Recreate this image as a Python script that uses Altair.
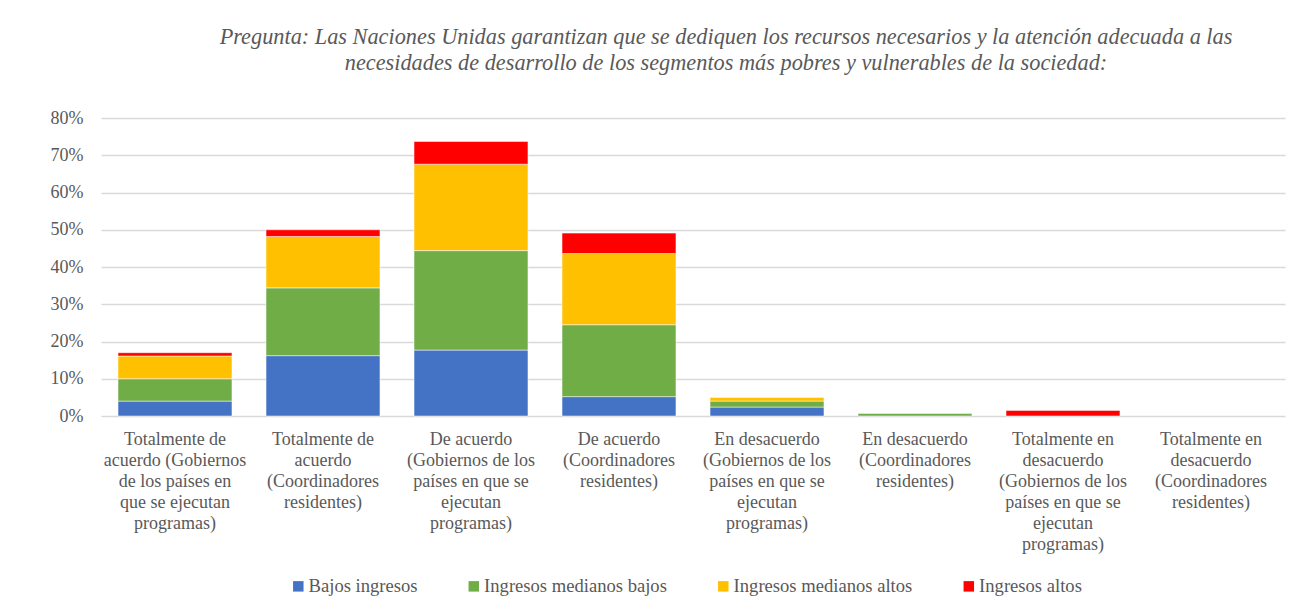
import altair as alt
import pandas as pd

categories = [
    "Totalmente de|acuerdo (Gobiernos|de los países en|que se ejecutan|programas)",
    "Totalmente de|acuerdo|(Coordinadores|residentes)",
    "De acuerdo|(Gobiernos de los|países en que se|ejecutan|programas)",
    "De acuerdo|(Coordinadores|residentes)",
    "En desacuerdo|(Gobiernos de los|países en que se|ejecutan|programas)",
    "En desacuerdo|(Coordinadores|residentes)",
    "Totalmente en|desacuerdo|(Gobiernos de los|países en que se|ejecutan|programas)",
    "Totalmente en|desacuerdo|(Coordinadores|residentes)",
]
series = ["Bajos ingresos", "Ingresos medianos bajos", "Ingresos medianos altos", "Ingresos altos"]
colors = ["#4472C4", "#70AD47", "#FFC000", "#FF0000"]

bajos = [4.0, 16.2, 17.7, 5.2, 2.4, 0.0, 0.0, 0.0]
medianos_bajos = [6.0, 18.2, 26.7, 19.3, 1.6, 0.7, 0.0, 0.0]
medianos_altos = [6.1, 13.8, 23.2, 19.1, 1.0, 0.0, 0.0, 0.0]
altos = [0.9, 1.8, 6.1, 5.5, 0.0, 0.0, 1.5, 0.0]

y_ticks = [0, 10, 20, 30, 40, 50, 60, 70, 80]

rows = []
for si, (name, vals) in enumerate(zip(series, [bajos, medianos_bajos, medianos_altos, altos])):
    for cat, v in zip(categories, vals):
        rows.append({"cat": cat, "serie": name, "value": v, "idx": si})
df = pd.DataFrame(rows)

GRAY = "#595959"
FONT = "Liberation Serif, Times New Roman, Times, serif"

chart = (
    alt.Chart(df)
    .transform_filter("datum.value > 0")
    .mark_bar(stroke="white", strokeWidth=1, strokeOpacity=0.5)
    .encode(
        x=alt.X(
            "cat:N",
            title=None,
            scale=alt.Scale(domain=categories, paddingInner=0.23, paddingOuter=0.115),
            axis=alt.Axis(
                labelExpr="split(datum.label, '|')",
                labelAngle=0,
                labelFont=FONT,
                labelFontSize=18,
                labelColor=GRAY,
                labelLineHeight=21,
                labelPadding=14,
                labelLimit=300,
                ticks=False,
                tickSize=0,
                domain=False,
                grid=False,
            ),
        ),
        y=alt.Y(
            "value:Q",
            stack="zero",
            title=None,
            scale=alt.Scale(domain=[0, 80], nice=False),
            axis=alt.Axis(
                values=y_ticks,
                labelExpr="datum.value + '%'",
                labelFont=FONT,
                labelFontSize=18,
                labelColor=GRAY,
                labelPadding=18,
                ticks=False,
                tickSize=0,
                domain=False,
                grid=True,
                gridColor="#d9d9d9",
                gridWidth=1.3,
            ),
        ),
        color=alt.Color(
            "serie:N",
            scale=alt.Scale(domain=series, range=colors),
            legend=alt.Legend(
                title=None,
                orient="none",
                direction="horizontal",
                legendX=188,
                legendY=459,
                symbolType="square",
                symbolSize=110,
                symbolStrokeWidth=0,
                labelFont=FONT,
                labelFontSize=18.6,
                labelColor=GRAY,
                labelOffset=1,
                labelLimit=400,
                columnPadding=46.5,
            ),
        ),
        order=alt.Order("idx:Q", sort="ascending"),
    )
    .properties(
        width=1184,
        height=298,
        padding={"left": 42, "top": 18, "right": 5, "bottom": 5},
        title=alt.TitleParams(
            text=[
                "Pregunta: Las Naciones Unidas garantizan que se dediquen los recursos necesarios y la atención adecuada a las",
                "necesidades de desarrollo de los segmentos más pobres y vulnerables de la sociedad:",
            ],
            font=FONT,
            fontSize=22.3,
            fontStyle="italic",
            fontWeight="normal",
            color=GRAY,
            lineHeight=25.5,
            anchor="middle",
            dx=33,
            offset=35,
        ),
    )
    .configure_view(stroke=None)
)

chart.save("out.html", embed_options={"renderer": "svg", "actions": False})
